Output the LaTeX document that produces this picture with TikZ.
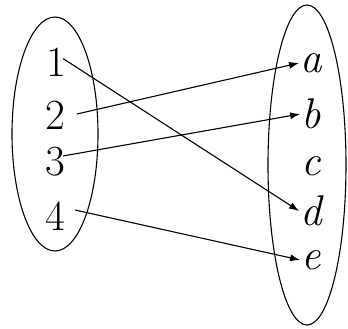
\documentclass[tikz,border=0pt]{standalone}
\usetikzlibrary{arrows.meta}
\begin{document}
\begin{tikzpicture}[x=1pt,y=-1pt,
  lbl/.style={font=\fontsize{43}{43}\selectfont, inner sep=1pt},
  set/.style={draw, line width=1.1pt},
  map/.style={-{Latex[length=10pt,width=7pt]}, line width=1.1pt}]
\useasboundingbox (0,0) rectangle (348,329);
\draw[set] (55,134) ellipse [x radius=43, y radius=117];
\draw[set] (307,165) ellipse [x radius=39, y radius=160];
\node[lbl] (n1) at (56,62) {1};
\node[lbl] (n2) at (55,115) {2};
\node[lbl] (n3) at (55,162) {3};
\node[lbl] (n4) at (55,216) {4};
\node[lbl] (a) at (311,63) {\itshape a};
\node[lbl] (b) at (311,114) {\itshape b};
\node[lbl] (c) at (311,166) {\itshape c};
\node[lbl] (d) at (311,211) {\itshape d};
\node[lbl] (e) at (311,260) {\itshape e};
\draw[map] (n1.north east) ++(-4,12) coordinate (s1) -- (d.west);
\draw[map] (77,114) coordinate (s2) -- (a.west);
\draw[map] (63,156) coordinate (s3) -- (b.west);
\draw[map] (75,210) coordinate (s4) -- (e.west);
\end{tikzpicture}
\end{document}
